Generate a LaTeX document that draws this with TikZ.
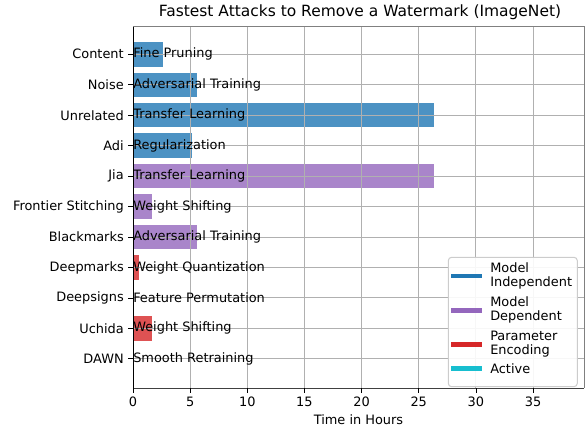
\documentclass[tikz,border=0pt]{standalone}
\usepackage{fontspec}
\setmainfont{DejaVu Sans}
\definecolor{barblue}{HTML}{4C92C3}
\definecolor{barpurple}{HTML}{A985CA}
\definecolor{barred}{HTML}{DE5253}
\definecolor{barcyan}{HTML}{45CBD9}
\definecolor{legblue}{HTML}{1F77B4}
\definecolor{legpurple}{HTML}{9467BD}
\definecolor{legred}{HTML}{D62728}
\definecolor{legcyan}{HTML}{17BECF}
\definecolor{gridgray}{HTML}{B0B0B0}
\begin{document}
\begin{tikzpicture}[x=0.75pt,y=-0.75pt,
  txt/.style={inner sep=0pt,font=\fontsize{9.68}{11.6}\selectfont},
  ticklab/.style={txt,anchor=east},
  barlab/.style={txt,anchor=west},
  gridline/.style={draw=gridgray,line width=0.75pt},
  tickmark/.style={draw=black,line width=0.6pt},
  leghandle/.style={line width=3.6pt},
  legtext/.style={txt,anchor=west,align=left,font=\fontsize{9.68}{10.5}\selectfont}]
\useasboundingbox (0,0) rectangle (586,432);
% axes frame geometry (pixel units): x0 = 133, 11.43 px per hour
\def\xo{133}\def\sc{11.43}
\def\top{26.5}\def\bot{388}\def\rgt{584}
% bars: label / hours / attack / colour
\foreach \lab/\hrs/\att/\col [count=\i from 0] in {
  Content/2.6/Fine Pruning/barblue,
  Noise/5.57/Adversarial Training/barblue,
  Unrelated/26.3/Transfer Learning/barblue,
  Adi/5.16/Regularization/barblue,
  Jia/26.3/Transfer Learning/barpurple,
  Frontier Stitching/1.66/Weight Shifting/barpurple,
  Blackmarks/5.57/Adversarial Training/barpurple,
  Deepmarks/0.5/Weight Quantization/barred,
  Deepsigns/0/Feature Permutation/barred,
  Uchida/1.66/Weight Shifting/barred,
  DAWN/0/Smooth Retraining/barcyan}{
  \pgfmathsetmacro{\yc}{54.3+30.45*\i}
  \pgfmathsetmacro{\xe}{\xo+\sc*\hrs}
  \fill[\col] (\xo,\yc-12.2) rectangle (\xe,\yc+12.2);
}
% grid on top of the bars
\foreach \v in {0,5,...,35}{
  \pgfmathsetmacro{\xv}{\xo+\sc*\v}
  \draw[gridline] (\xv,\top) -- (\xv,\bot);
}
\foreach \i in {0,...,10}{
  \pgfmathsetmacro{\yc}{54.3+30.45*\i}
  \draw[gridline] (\xo,\yc) -- (\rgt,\yc);
}
% frame
\draw[line width=0.75pt,draw=gray] (\xo,\top) -- (\rgt,\top) -- (\rgt,\bot);
\draw[line width=0.75pt,draw=black!75] (\xo,\bot) -- (\rgt,\bot);
\draw[line width=0.75pt,draw=black] (\xo,\top) -- (\xo,\bot);
% y ticks, labels and bar annotations
\foreach \lab/\att [count=\i from 0] in {
  Content/Fine Pruning,
  Noise/Adversarial Training,
  Unrelated/Transfer Learning,
  Adi/Regularization,
  Jia/Transfer Learning,
  Frontier Stitching/Weight Shifting,
  Blackmarks/Adversarial Training,
  Deepmarks/Weight Quantization,
  Deepsigns/Feature Permutation,
  Uchida/Weight Shifting,
  DAWN/Smooth Retraining}{
  \pgfmathsetmacro{\yc}{54.3+30.45*\i}
  \draw[tickmark] (\xo-4.6,\yc) -- (\xo,\yc);
  \node[ticklab] (ylab\i) at (\xo-9,\yc) {\lab};
  \node[barlab] (att\i) at (\xo,\yc) {\att};
}
% x ticks and labels
\foreach \v in {0,5,...,35}{
  \pgfmathsetmacro{\xv}{\xo+\sc*\v}
  \draw[tickmark] (\xv,\bot) -- (\xv,\bot+4.6);
  \node[txt,anchor=north] (xlab\v) at (\xv,\bot+8.5) {\v};
}
\node[txt] (xtitle) at (358.5,420) {Time in Hours};
\node[inner sep=0pt,font=\fontsize{11.6}{13.9}\selectfont] (title) at (360,12.5) {Fastest Attacks to Remove a Watermark (ImageNet)};
% legend
\draw[draw=black!20,fill=white,fill opacity=0.9,line width=0.75pt,rounded corners=2.5pt]
  (448.3,257.3) rectangle (577.3,386.7);
\foreach \lt/\col/\yy [count=\k] in {
  {Model\\Independent}/legblue/276,
  {Model\\Dependent}/legpurple/310.3,
  {Parameter\\Encoding}/legred/344.3,
  {Active}/legcyan/368.3}{
  \coordinate (hl\k) at (451,\yy);
  \coordinate (hr\k) at (481.5,\yy);
  \draw[leghandle,\col] (hl\k) -- (hr\k);
  \node[legtext] (leg\k) at (490,\yy) {\lt};
}
\end{tikzpicture}
\end{document}
